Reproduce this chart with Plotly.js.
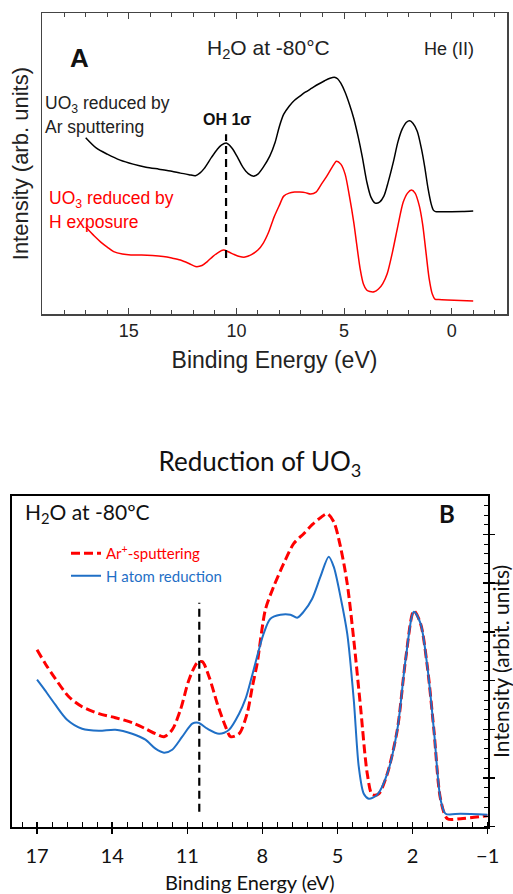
<!DOCTYPE html>
<html>
<head>
<meta charset="utf-8">
<script src="https://cdn.plot.ly/plotly-3.0.1.min.js"></script>
<style>html,body{margin:0;padding:0;background:#fff;}#chart{width:513px;height:894px;}</style>
</head>
<body>
<div id="chart"></div>
<script>
// ---------- Panel A (He II spectra) ----------
const topArE = [17.0, 16.5, 16.0, 15.4, 14.8, 14.2, 13.6, 13.0, 12.6, 12.2, 11.9, 11.7, 11.5, 11.15, 10.9, 10.7, 10.45, 10.2, 9.95, 9.7, 9.45, 9.2, 9.0, 8.75, 8.45, 8.2, 8.0, 7.8, 7.55, 7.3, 7.05, 6.8, 6.5, 6.2, 5.9, 5.65, 5.45, 5.3, 5.15, 4.95, 4.75, 4.55, 4.35, 4.15, 3.95, 3.75, 3.55, 3.35, 3.15, 2.95, 2.7, 2.5, 2.3, 2.1, 1.95, 1.8, 1.6, 1.4, 1.25, 1.1, 0.95, 0.85, 0.75, 0.5, 0, -0.5, -1.0];
const topArI = [176.5, 166, 160, 154, 150, 147, 145, 143, 141, 139.5, 138.5, 141, 145.5, 157, 164.5, 169, 171, 166, 157, 147, 140.5, 138, 140, 147, 158, 172, 188, 200, 208, 214, 218, 222, 226, 230, 233.5, 236, 237, 235.5, 231, 222, 210, 196, 178, 157, 133, 117, 111, 112, 118, 132, 153, 172, 185, 192, 193.5, 191, 183, 165, 147, 126, 110, 104, 102.5, 102.3, 102.3, 102.5, 103];
const topHE = [17.0, 16.6, 16.3, 16.0, 15.7, 15.3, 14.9, 14.4, 13.9, 13.4, 13.0, 12.6, 12.2, 11.9, 11.6, 11.35, 11.1, 10.85, 10.6, 10.35, 10.1, 9.85, 9.6, 9.3, 9.0, 8.75, 8.5, 8.25, 8.0, 7.8, 7.55, 7.3, 7.05, 6.8, 6.55, 6.3, 6.05, 5.8, 5.55, 5.35, 5.15, 4.95, 4.75, 4.55, 4.4, 4.25, 4.1, 3.95, 3.8, 3.6, 3.4, 3.2, 3.0, 2.75, 2.5, 2.25, 2.05, 1.87, 1.7, 1.5, 1.35, 1.2, 1.05, 0.9, 0.78, 0.6, 0.2, -0.4, -1.0];
const topHI = [87, 78, 72, 67, 62.5, 60, 59, 59, 58.5, 57.5, 56, 54, 50.5, 47.5, 48.5, 52.5, 57.5, 61.5, 64, 62, 59.5, 57.5, 57, 59.5, 64, 71, 82, 97, 109, 118, 121, 122, 122, 121.5, 120, 122, 130, 138, 147, 153, 150, 140, 118, 92, 68, 45, 30, 24, 22.5, 22.3, 25, 30.5, 40, 62, 88, 112, 121, 124, 121, 108, 90, 63, 36, 20, 15, 14.5, 14, 13.5, 13];
const topOHLineE = [10.48, 10.48];
const topOHLineI = [56, 180];
const topXTickVals = [15, 10, 5, 0];

// ---------- Panel B (Reduction of UO3) ----------
const botArE = [17.0, 16.67, 16.27, 15.73, 15.2, 14.53, 13.87, 13.2, 12.67, 12.27, 11.93, 11.6, 11.27, 10.93, 10.6, 10.4, 10.13, 9.8, 9.47, 9.27, 8.93, 8.61, 8.4, 8.21, 7.88, 7.55, 7.15, 6.75, 6.35, 6.01, 5.68, 5.41, 5.15, 4.88, 4.61, 4.35, 4.08, 3.81, 3.61, 3.35, 3.01, 2.61, 2.28, 1.95, 1.68, 1.41, 1.15, 0.88, 0.61, 0.08, -1.0];
const botArI = [177, 163, 148, 130, 120, 113, 109, 104, 98, 93, 90, 97, 117, 147, 164, 165, 150, 123, 100, 90, 93, 113, 140, 163, 217, 240, 263, 283, 293, 302, 309, 313, 305, 280, 243, 187, 120, 53, 32, 33, 53, 97, 167, 216, 203, 160, 97, 27, 8, 8, 11];
const botHE = [17.0, 16.73, 16.27, 15.8, 15.2, 14.53, 13.87, 13.2, 12.67, 12.27, 11.93, 11.6, 11.2, 10.8, 10.56, 10.2, 9.73, 9.33, 8.93, 8.67, 8.4, 7.95, 7.68, 7.28, 6.88, 6.61, 6.35, 6.01, 5.68, 5.35, 5.15, 4.88, 4.61, 4.35, 4.15, 3.95, 3.75, 3.41, 3.01, 2.61, 2.28, 1.95, 1.68, 1.41, 1.15, 0.88, 0.68, 0.08, -1.0];
const botHI = [147, 138, 122, 107, 98, 96, 97, 93, 87, 78, 74, 77, 90, 103, 104, 98, 93, 97, 113, 128, 152, 193, 208, 212, 212, 209, 215, 228, 250, 270, 260, 230, 193, 127, 60, 33, 28, 32, 53, 97, 167, 215, 203, 160, 97, 27, 13, 13, 12];
const botOHLineE = [10.52, 10.52];
const botOHLineI = [15, 224];
const botXTickVals = [17, 14, 11, 8, 5, 2, -1];
const legendNames = ["Ar<sup>+</sup>-sputtering", "H atom reduction"];

const W = 513, H = 894;
const px = v => v / W;
const py = v => 1 - v / H;

const arial = "Liberation Sans, Arial, sans-serif";
const cal = "Lato, Open Sans, sans-serif";

const traces = [
  {x: topArE, y: topArI, xaxis: 'x', yaxis: 'y', mode: 'lines', showlegend: false,
   line: {color: '#000', width: 1.5, shape: 'spline', smoothing: 0.8}},
  {x: topHE, y: topHI, xaxis: 'x', yaxis: 'y', mode: 'lines', showlegend: false,
   line: {color: '#ff0000', width: 1.5, shape: 'spline', smoothing: 0.8}},
  {x: topOHLineE, y: topOHLineI, xaxis: 'x', yaxis: 'y', mode: 'lines', showlegend: false,
   line: {color: '#000', width: 2.2, dash: '8px,5px'}},
  {x: botArE, y: botArI, xaxis: 'x2', yaxis: 'y2', mode: 'lines',
   name: "<span style='color:#ff0000'>" + legendNames[0] + "</span>",
   line: {color: '#ff0000', width: 3, dash: '9px,4px', shape: 'spline', smoothing: 0.8}},
  {x: botHE, y: botHI, xaxis: 'x2', yaxis: 'y2', mode: 'lines',
   name: "<span style='color:#1f6fc6'>" + legendNames[1] + "</span>",
   line: {color: '#1f6fc6', width: 2, shape: 'spline', smoothing: 0.8}},
  {x: botOHLineE, y: botOHLineI, xaxis: 'x3', yaxis: 'y3', mode: 'lines', showlegend: false,
   line: {color: '#000', width: 2.2, dash: '8px,5px'}}
];

const topDomX = [px(42), px(507)];
const topDomY = [py(314), py(13.3)];
const botDomX = [px(12), px(487.7)];
const botDomY = [py(826.7), py(496)];
const botXRange = [18, -1];
const botYRange = [0, 330.7];

const layout = {
  width: W, height: H,
  margin: {l: 0, r: 0, t: 0, b: 0},
  paper_bgcolor: '#fff', plot_bgcolor: 'rgba(0,0,0,0)',
  title: {text: 'Reduction of UO<sub>3</sub>', font: {family: cal, size: 26, color: '#111'},
          x: px(260), xanchor: 'center', xref: 'paper', y: py(462), yanchor: 'middle', yref: 'paper'},
  showlegend: true,
  legend: {x: px(66), y: py(537), xanchor: 'left', yanchor: 'top', bgcolor: 'rgba(0,0,0,0)',
           font: {family: cal, size: 15}, tracegroupgap: 0, itemwidth: 30},
  xaxis: {domain: topDomX, anchor: 'y', range: [19.03, -2.57], showgrid: false, zeroline: false,
          showline: true, linecolor: '#444', linewidth: 1.5, mirror: 'ticks',
          tickmode: 'array', tickvals: topXTickVals, ticks: 'inside', ticklen: 6, tickwidth: 1, tickcolor: '#444',
          minor: {dtick: 1, tick0: 0, ticks: 'inside', ticklen: 4, tickwidth: 1, tickcolor: '#444', showgrid: false},
          ticklabelstandoff: 0,
          tickfont: {family: arial, size: 18, color: '#222'},
          title: {text: 'Binding Energy (eV)', font: {family: arial, size: 23, color: '#222'}, standoff: 12},
          automargin: false},
  yaxis: {domain: topDomY, anchor: 'x', range: [0, 301], showgrid: false, zeroline: false,
          showline: true, linecolor: '#444', linewidth: 1.5, mirror: true,
          showticklabels: false, ticks: '',
          title: {text: 'Intensity (arb. units)', font: {family: arial, size: 22, color: '#222'}, standoff: 6},
          automargin: false},
  xaxis2: {domain: botDomX, anchor: 'y2', range: botXRange, showgrid: false, zeroline: false,
           showline: true, linecolor: '#000', linewidth: 2, mirror: true,
           tickmode: 'array', tickvals: botXTickVals, ticks: 'outside', ticklen: 5, tickwidth: 1.5, tickcolor: '#000',
           minor: {dtick: 0.6, tick0: -1, ticks: 'inside', ticklen: 5, tickwidth: 1, tickcolor: '#000', showgrid: false},
           ticklabelstandoff: 5,
           tickfont: {family: cal, size: 20, color: '#111'},
           title: {text: 'Binding Energy (eV)', font: {family: cal, size: 20, color: '#111'}, standoff: 14},
           automargin: false},
  yaxis2: {domain: botDomY, anchor: 'x2', side: 'right', range: botYRange, showgrid: false, zeroline: false,
           showline: true, linecolor: '#000', linewidth: 2, mirror: true,
           showticklabels: false, tick0: 0, dtick: 48.7, ticks: 'outside', ticklen: 5, tickwidth: 1.5, tickcolor: '#000',
           minor: {dtick: 9.74, tick0: 0, ticks: 'inside', ticklen: 4, tickwidth: 1, tickcolor: '#000', showgrid: false},
           title: {text: 'Intensity (arbit. units)', font: {family: cal, size: 21, color: '#111'}, standoff: 1},
           automargin: false},
  xaxis3: {overlaying: 'x2', anchor: 'y3', range: botXRange, showgrid: false, zeroline: false, showline: false,
           tickmode: 'array', tickvals: botXTickVals, ticks: 'inside', ticklen: 5, tickwidth: 1.5, tickcolor: '#000',
           showticklabels: false, automargin: false},
  yaxis3: {overlaying: 'y2', anchor: 'x3', side: 'right', range: botYRange, showgrid: false, zeroline: false, showline: false,
           tick0: 0, dtick: 48.7, ticks: 'inside', ticklen: 5, tickwidth: 1.5, tickcolor: '#000',
           showticklabels: false, automargin: false},
  annotations: [
    {text: '<b>A</b>', x: px(67.5), y: py(41), xref: 'paper', yref: 'paper', showarrow: false,
     font: {family: arial, size: 26, color: '#111'}},
    {text: 'H<sub>2</sub>O at -80°C', x: px(268), y: py(34), xref: 'paper', yref: 'paper', showarrow: false,
     font: {family: arial, size: 21, color: '#222'}},
    {text: 'He (II)', x: px(476), y: py(37), xref: 'paper', yref: 'paper', showarrow: false,
     font: {family: arial, size: 18, color: '#222'}},
    {text: 'UO<sub>3</sub> reduced by', x: px(43), y: py(91), xref: 'paper', yref: 'paper', xanchor: 'left', showarrow: false,
     font: {family: arial, size: 17.5, color: '#222'}},
    {text: 'Ar sputtering', x: px(43), y: py(115), xref: 'paper', yref: 'paper', xanchor: 'left', showarrow: false,
     font: {family: arial, size: 17.5, color: '#222'}},
    {text: 'UO<sub>3</sub> reduced by', x: px(47), y: py(186), xref: 'paper', yref: 'paper', xanchor: 'left', showarrow: false,
     font: {family: arial, size: 17.5, color: '#ff0000'}},
    {text: 'H exposure', x: px(47), y: py(210), xref: 'paper', yref: 'paper', xanchor: 'left', showarrow: false,
     font: {family: arial, size: 17.5, color: '#ff0000'}},
    {text: '<b>OH 1σ</b>', x: px(227), y: py(109), xref: 'paper', yref: 'paper', showarrow: false,
     font: {family: arial, size: 16, color: '#111'}},
    {text: 'H<sub>2</sub>O at -80ºC', x: px(23), y: py(513), xref: 'paper', yref: 'paper', xanchor: 'left', showarrow: false,
     font: {family: cal, size: 21, color: '#111'}},
    {text: '<b>B</b>', x: px(457), y: py(513), xref: 'paper', yref: 'paper', showarrow: false,
     font: {family: cal, size: 24, color: '#111'}}
  ]
};

Plotly.newPlot('chart', traces, layout, {displayModeBar: false, staticPlot: true});
</script>
</body>
</html>
